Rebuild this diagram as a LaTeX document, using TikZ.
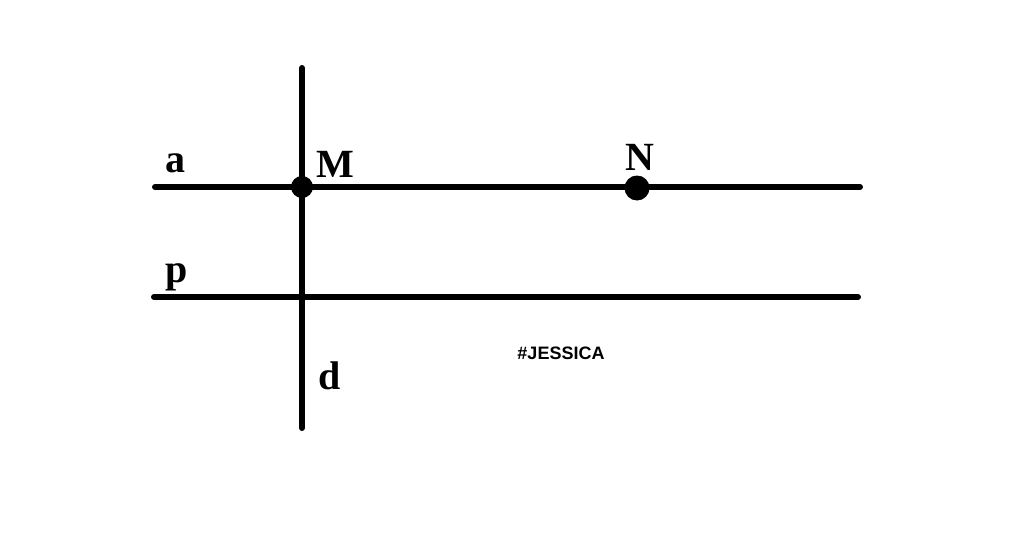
\documentclass[tikz,border=0pt]{standalone}
\usepackage{fontspec}
\setmainfont{Liberation Serif}
\newfontfamily\tagfont{Liberation Sans}
\begin{document}
\begin{tikzpicture}[x=1pt,y=-1pt,
  ln/.style={line width=6pt,line cap=round},
  pt/.style={circle,fill=black,inner sep=0pt,minimum size=#1},
  lbl/.style={anchor=base,inner sep=0pt,font=\fontsize{40}{42}\selectfont\bfseries}]
\useasboundingbox (0,0) rectangle (1024,548);
\fill[white] (0,0) rectangle (1024,548);
\coordinate (a1) at (155,187);
\coordinate (a2) at (860,187);
\coordinate (p1) at (154,297);
\coordinate (p2) at (858,297);
\coordinate (d1) at (302,68);
\coordinate (d2) at (302,428);
\draw[ln] (a1) -- (a2);
\draw[ln] (p1) -- (p2);
\draw[ln] (d1) -- (d2);
\node[pt=22pt] (M) at (302,187) {};
\node[pt=25pt] (N) at (637,188) {};
\node[lbl] (la) at (175,172) {a};
\node[lbl] (lM) at (335,177) {M};
\node[lbl] (lN) at (640,171) {N};
\node[lbl] (lp) at (177,282) {p};
\node[lbl] (ld) at (330,389) {d};
\node[inner sep=0pt,font=\tagfont\fontsize{18}{20}\selectfont\bfseries] (tag) at (561,353) {\#JESSICA};
\end{tikzpicture}
\end{document}
